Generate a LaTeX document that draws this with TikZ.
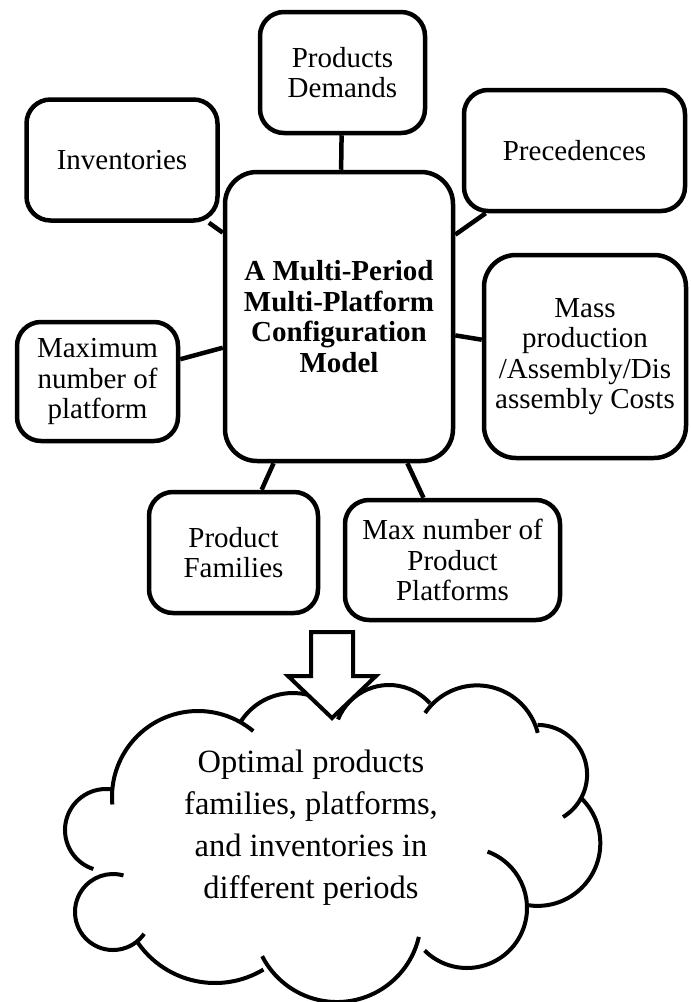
\documentclass[tikz,border=0pt]{standalone}
\usepackage{fontspec}
\setmainfont{Liberation Serif}
\usepackage{tikz}
\newcommand{\boxfont}{\fontsize{29}{30.5}\selectfont}
\newcommand{\cloudfont}{\fontsize{32.5}{42}\selectfont}
\tikzset{
    common/.style={draw, line width=4.5pt, fill=white, align=center, inner sep=0pt, font=\boxfont},
    box/.style={common, rounded corners=24pt, minimum height=121pt},
    corebox/.style={common, rounded corners=32pt, font=\boxfont\bfseries},
    link/.style={line width=4.5pt},
    puff/.style={line width=4pt},
    bigarrow/.style={line width=4pt, fill=white, line join=miter},
    cloudtext/.style={align=center, inner sep=0pt, font=\cloudfont}
}

\begin{document}
\begin{tikzpicture}[x=1pt, y=1pt]
    \useasboundingbox (0,0) rectangle (691,-1002);

    % model and its inputs
    \node[corebox, minimum width=228pt, minimum height=289pt] (core) at (339,-316.5)
        {A Multi-Period\\Multi-Platform\\Configuration\\Model};
    \node[box, minimum width=165pt] (demand) at (342.5,-72.5) {Products\\Demands};
    \node[box, minimum width=191pt] (inv) at (122,-160) {Inventories};
    \node[box, minimum width=221pt] (prec) at (574.5,-150.5) {Precedences};
    \node[common, rounded corners=32pt, minimum width=202pt, minimum height=203pt] (costs) at (585,-356.5)
        {Mass\\production\\/Assembly/Dis\\assembly Costs};
    \node[box, minimum width=161pt, minimum height=119pt] (maxplat) at (97.5,-381.5)
        {Maximum\\number of\\platform};
    \node[box, minimum width=169pt] (families) at (233.5,-552.5) {Product\\Families};
    \node[box, minimum width=215pt, minimum height=120pt] (maxpp) at (452.5,-560)
        {Max number of\\Product\\Platforms};

    \draw[link] (demand) -- (core);
    \draw[link] (inv) -- (core);
    \draw[link] (prec) -- (core);
    \draw[link] (costs) -- (core);
    \draw[link] (maxplat) -- (core);
    \draw[link] (families) -- (core);
    \draw[link] (maxpp) -- (core);

    % cloud, one arc per puff
    \foreach \cx/\cy/\sa/\ea/\r in {
        198/797/185/50/86, 293/755/148/45/62, 389/740/158/42/55,
        477/748/146/14/62.6, 537.5/774.5/90/-59/49.6, 537.6/843.2/47.5/-99/62.7,
        467/908/70/-135/60, 337/918/-13/-153/84, 215/889/-59/-145/94,
        113/912/-35/-286/38, 106/830/252/80/41}
        \draw[puff] (\cx,-\cy) ++(\sa:\r) arc[start angle=\sa, end angle=\ea, radius=\r];

    % block arrow into the cloud
    \draw[bigarrow] (311,-632) -- (353,-632) -- (353,-676) -- (376,-676)
        -- (332,-718) -- (288,-676) -- (311,-676) -- cycle;

    \node[cloudtext] (result) at (311,-828)
        {Optimal products\\families, platforms,\\and inventories in\\different periods};
\end{tikzpicture}
\end{document}
